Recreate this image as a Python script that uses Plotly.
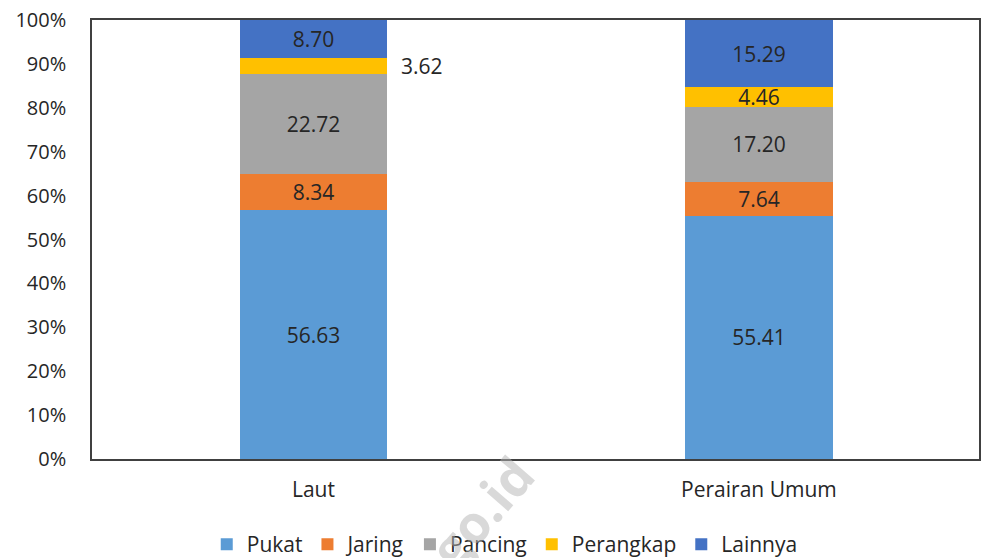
import plotly.graph_objects as go

categories = ["Laut", "Perairan Umum"]
series_names = ["Pukat", "Jaring", "Pancing", "Perangkap", "Lainnya"]
pukat = [56.63, 55.41]
jaring = [8.34, 7.64]
pancing = [22.72, 17.20]
perangkap = [3.62, 4.46]
lainnya = [8.70, 15.29]
colors = ["#5B9BD5", "#ED7D31", "#A5A5A5", "#FFC000", "#4472C4"]
y_ticks = [0, 10, 20, 30, 40, 50, 60, 70, 80, 90, 100]
y_tick_labels = [f"{v}%" for v in y_ticks]

values = [pukat, jaring, pancing, perangkap, lainnya]
FONT = "Open Sans"
TXT = "#262626"

fig = go.Figure()
for name, vals, col in zip(series_names, values, colors):
    texts = [f"{v:.2f}" for v in vals]
    if name == "Perangkap":
        texts[0] = ""  # Laut label drawn outside the bar
    fig.add_trace(go.Bar(
        name=name, x=categories, y=vals, marker=dict(color=col, line=dict(width=0)),
        text=texts, textposition="inside", insidetextanchor="middle",
        constraintext="none",
        textfont=dict(family=FONT, size=21, color=TXT), textangle=0,
        cliponaxis=False,
    ))

# outside label for Laut / Perangkap
laut_total = pukat[0] + jaring[0] + pancing[0] + perangkap[0] + lainnya[0]
laut_mid = (pukat[0] + jaring[0] + pancing[0] + perangkap[0] / 2) / laut_total * 100
fig.add_annotation(x=categories[0], y=laut_mid, text=f"{perangkap[0]:.2f}",
                   showarrow=False, xanchor="left", xshift=86,
                   font=dict(family=FONT, size=21, color=TXT))

# faint watermark
fig.add_annotation(xref="paper", yref="paper", x=0.399, y=-0.21, text="<b>bps.go.id</b>",
                   showarrow=False, textangle=-49, xanchor="center", yanchor="middle",
                   font=dict(family=FONT, size=52, color="rgba(180,180,180,0.5)"))

fig.update_layout(
    barmode="stack", barnorm="percent", bargap=0.669,
    width=982, height=558,
    margin=dict(l=92, r=1, t=20, b=99),
    paper_bgcolor="white", plot_bgcolor="white",
    showlegend=True,
    legend=dict(orientation="h", xref="container", yref="container",
                x=0.514, xanchor="center", y=0.024, yanchor="middle",
                font=dict(family=FONT, size=21, color=TXT),
                itemwidth=30, traceorder="normal"),
    font=dict(family=FONT, color=TXT),
)
fig.update_xaxes(range=[-0.497, 1.494],
                 showline=True, linecolor="#404040", linewidth=2, mirror=True,
                 tickfont=dict(family=FONT, size=21, color=TXT), ticks="",
                 ticklabelstandoff=11)
fig.update_yaxes(range=[0, 100], tickvals=y_ticks, ticktext=y_tick_labels,
                 showgrid=False, zeroline=False,
                 showline=True, linecolor="#404040", linewidth=1.5, mirror=True,
                 tickfont=dict(family=FONT, size=20, color=TXT), ticks="",
                 ticklabelstandoff=20)

fig.write_html("out.html")
